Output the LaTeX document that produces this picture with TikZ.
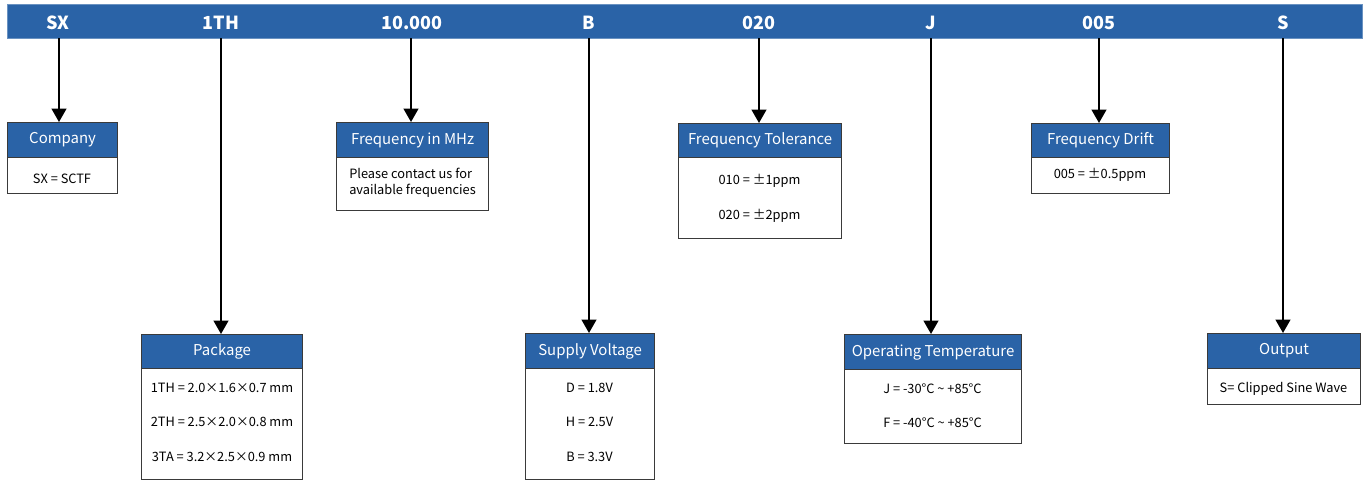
\documentclass[tikz,border=0pt]{standalone}
\usepackage{fontspec}
\setmainfont{Noto Sans CJK SC}
\usetikzlibrary{arrows.meta}
\definecolor{barblue}{RGB}{42,99,167}
\definecolor{edge}{RGB}{58,58,58}
\begin{document}
\begin{tikzpicture}[x=0.75pt,y=-0.75pt,
 hdr/.style={draw=edge, line width=0.9pt, fill=barblue, text=white, font=\fontsize{11.2}{13}\selectfont, inner sep=0pt, anchor=north west},
 bodybox/.style={draw=edge, line width=0.9pt, fill=white, inner sep=0pt, anchor=north west},
 txt/.style={font=\fontsize{9.6}{11.8}\selectfont, inner sep=0pt},
 code/.style={text=white, font=\bfseries\fontsize{13.5}{16}\selectfont, inner sep=0pt},
 arr/.style={line width=1.5pt, -{Triangle[length=10pt,width=11pt]}}]
\useasboundingbox (0,0) rectangle (1365,479);
% top bar
\node[fill=barblue, draw=barblue!70!white, line width=0.4pt, minimum width=1355*0.75pt, minimum height=34*0.75pt, inner sep=0pt, anchor=north west] (bar) at (7,4) {};
\node[code] (lSX) at (58,23) {SX};
\node[code] (l1TH) at (221,23) {1TH};
\node[code] (lfreq) at (412,23) {10.000};
\node[code] (lB) at (589,23) {B};
\node[code] (l020) at (759,23) {020};
\node[code] (lJ) at (931,23) {J};
\node[code] (l005) at (1099,23) {005};
\node[code] (lS) at (1283,23) {S};
\coordinate (cSX) at (59,38);
\coordinate (c1TH) at (221,38);
\coordinate (cfreq) at (411,38);
\coordinate (cB) at (589,38);
\coordinate (c020) at (759,38);
\coordinate (cJ) at (931,38);
\coordinate (c005) at (1099,38);
\coordinate (cS) at (1283,38);
% Company
\node[bodybox, minimum width=110*0.75pt, minimum height=71*0.75pt] (compB) at (7,122) {};
\node[hdr, minimum width=110*0.75pt, minimum height=35*0.75pt] (compH) at (7,122) {Company};
\node[txt] (compT) at (62,178.5) {SX = SCTF};
% Frequency in MHz
\node[bodybox, minimum width=152*0.75pt, minimum height=88*0.75pt] (freqB) at (336,122) {};
\node[hdr, minimum width=152*0.75pt, minimum height=35*0.75pt] (freqH) at (336,122) {Frequency in MHz};
\node[txt, align=left, anchor=west] (freqT) at (349,182.5) {Please contact us for\\available frequencies};
% Package
\node[bodybox, minimum width=161*0.75pt, minimum height=145*0.75pt] (pkgB) at (141,334) {};
\node[hdr, minimum width=161*0.75pt, minimum height=34*0.75pt] (pkgH) at (141,334) {Package};
\node[txt] (pkg1) at (222,387.5) {1TH = 2.0×1.6×0.7 mm};
\node[txt] (pkg2) at (222,421.5) {2TH = 2.5×2.0×0.8 mm};
\node[txt] (pkg3) at (222,456.5) {3TA = 3.2×2.5×0.9 mm};
% Supply Voltage
\node[bodybox, minimum width=129*0.75pt, minimum height=146*0.75pt] (supB) at (525,333) {};
\node[hdr, minimum width=129*0.75pt, minimum height=35*0.75pt] (supH) at (525,333) {Supply Voltage};
\node[txt] (sup1) at (589.5,387.5) {D = 1.8V};
\node[txt] (sup2) at (589.5,421.5) {H = 2.5V};
\node[txt] (sup3) at (589.5,456.5) {B = 3.3V};
% Frequency Tolerance
\node[bodybox, minimum width=163*0.75pt, minimum height=115*0.75pt] (tolB) at (678,123) {};
\node[hdr, minimum width=163*0.75pt, minimum height=34*0.75pt] (tolH) at (678,123) {Frequency Tolerance};
\node[txt] (tol1) at (759.5,180.5) {010 = ±1ppm};
\node[txt] (tol2) at (759.5,215.5) {020 = ±2ppm};
% Operating Temperature
\node[bodybox, minimum width=177*0.75pt, minimum height=109*0.75pt] (tmpB) at (844,334) {};
\node[hdr, minimum width=177*0.75pt, minimum height=35*0.75pt] (tmpH) at (844,334) {Operating Temperature};
\node[txt] (tmp1) at (932.5,388.5) {J = -30°C \textasciitilde{} +85°C};
\node[txt] (tmp2) at (932.5,422.5) {F = -40°C \textasciitilde{} +85°C};
% Frequency Drift
\node[bodybox, minimum width=138*0.75pt, minimum height=70*0.75pt] (drB) at (1031,123) {};
\node[hdr, minimum width=138*0.75pt, minimum height=34*0.75pt] (drH) at (1031,123) {Frequency Drift};
\node[txt] (dr1) at (1100,174.5) {005 = ±0.5ppm};
% Output
\node[bodybox, minimum width=153*0.75pt, minimum height=71*0.75pt] (outB) at (1207,333) {};
\node[hdr, minimum width=153*0.75pt, minimum height=35*0.75pt] (outH) at (1207,333) {Output};
\node[txt] (out1) at (1283.5,388.5) {S= Clipped Sine Wave};
% arrows
\draw[arr] (cSX) -- (cSX |- compH.north);
\draw[arr] (c1TH) -- (c1TH |- pkgH.north);
\draw[arr] (cfreq) -- (cfreq |- freqH.north);
\draw[arr] (cB) -- (cB |- supH.north);
\draw[arr] (c020) -- (c020 |- tolH.north);
\draw[arr] (cJ) -- (cJ |- tmpH.north);
\draw[arr] (c005) -- (c005 |- drH.north);
\draw[arr] (cS) -- (cS |- outH.north);
\end{tikzpicture}
\end{document}
